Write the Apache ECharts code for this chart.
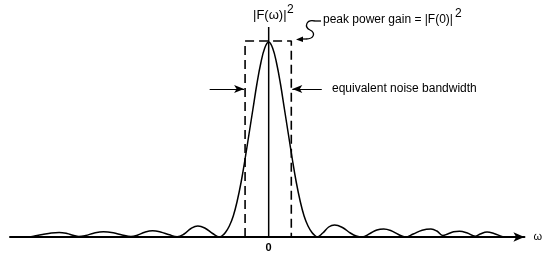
<!DOCTYPE html>
<html>
<head>
<meta charset="utf-8">
<script src="https://cdn.jsdelivr.net/npm/echarts@6/dist/echarts.min.js"></script>
<style>
  html, body { margin: 0; padding: 0; background: #fff; }
  #chart { width: 545px; height: 255px; }
</style>
</head>
<body>
<div id="chart"></div>
<script>
// |F(w)|^2 curve, [w, power] (w = 0 at the centre line)
const spectrum = [
  [-243, 0], [-237, 1.2], [-230, 2.5], [-221, 4], [-213, 4.5], [-205, 3.5], [-199, 1.8], [-193, 0.5],
  [-186, 1.5], [-178, 3.8], [-168, 5.2], [-158, 4.2], [-149, 2], [-140, 0.5],
  [-133, 2], [-126, 4.8], [-118, 6.2], [-110, 5], [-101, 2.2], [-93, 0.3],
  [-86, 3], [-79, 8.5], [-72, 11], [-65, 9], [-57, 3.5], [-50, 0],
  [-47, 1.5], [-44, 4.5], [-40, 11], [-36, 21], [-32, 36], [-28, 55], [-24, 78],
  [-20, 103], [-16, 128], [-12, 153], [-8, 174], [-4, 189], [0, 195],
  [4, 189], [8, 174], [12, 153], [16, 128], [20, 103], [24, 78],
  [28, 55], [32, 36], [36, 21], [40, 11], [44, 4.5], [47, 1.5], [49, 0],
  [55, 4], [61, 10], [67, 12], [75, 9.5], [83, 4], [89, 1], [95, 0],
  [103, 3.5], [110, 7], [117, 8], [124, 6.5], [132, 2.5], [139, 0],
  [147, 3], [156, 6.8], [165, 8], [171, 6], [177, 1.5],
  [182, 3], [188, 5.2], [194, 5.8], [202, 4], [210, 0.8],
  [215, 3], [222, 5], [229, 3.5], [237, 0.5], [239, 0]
];
// equivalent noise bandwidth box
const boxLeft = -24;
const boxRight = 23;
const peakGain = 196;
const axisTop = 210;
const arrowLevel = 148;

const chart = echarts.init(document.getElementById('chart'));
const font = 'Liberation Sans, Arial, sans-serif';
const txt = { fill: '#000', fontFamily: font, fontSize: 12 };

chart.setOption({
  animation: false,
  backgroundColor: '#fff',
  grid: { left: 10, right: 12, top: 5, bottom: 18 },
  xAxis: {
    type: 'value',
    min: -263,
    max: 260,
    splitLine: { show: false },
    axisTick: { show: false },
    axisLine: {
      show: true,
      symbol: ['none', 'arrow'],
      symbolSize: [7, 11],
      lineStyle: { color: '#000', width: 2 }
    },
    axisLabel: {
      customValues: [0],
      margin: 5,
      color: '#000',
      fontFamily: font,
      fontSize: 11,
      fontWeight: 'bold'
    },
    name: 'ω',
    nameLocation: 'end',
    nameGap: 9,
    nameTextStyle: { color: '#000', fontFamily: font, fontSize: 11 }
  },
  yAxis: {
    type: 'value',
    min: 0,
    max: 232,
    show: false
  },
  series: [
    {
      type: 'line',
      data: spectrum,
      smooth: 0.4,
      symbol: 'none',
      lineStyle: { color: '#000', width: 1.5 },
      z: 3
    },
    {
      // vertical axis through w = 0
      type: 'line',
      data: [[0, 0], [0, axisTop]],
      symbol: 'none',
      lineStyle: { color: '#000', width: 1.5 },
      z: 2
    },
    {
      type: 'line',
      data: [[boxLeft, 0], [boxLeft, peakGain], [boxRight, peakGain], [boxRight, 0]],
      symbol: 'none',
      lineStyle: { color: '#000', width: 1.6, type: [9, 5] },
      z: 2,
      markLine: {
        silent: true,
        symbol: ['none', 'arrow'],
        symbolSize: [6, 10],
        label: { show: false },
        lineStyle: { color: '#000', width: 1, type: 'solid' },
        data: [
          [{ coord: [-60, arrowLevel] }, { coord: [boxLeft - 1, arrowLevel] }],
          [{ coord: [54, arrowLevel] }, { coord: [boxRight + 1, arrowLevel] }]
        ]
      }
    }
  ],
  graphic: [
    { type: 'text', left: 253, top: 9, style: Object.assign({}, txt, { text: '|F(ω)|', fontSize: 13 }) },
    { type: 'text', left: 287, top: 4, style: Object.assign({ text: '2' }, txt) },
    { type: 'text', left: 323, top: 14, style: Object.assign({ text: 'peak power gain = |F(0)|' }, txt) },
    { type: 'text', left: 455, top: 8, style: Object.assign({ text: '2' }, txt) },
    { type: 'text', left: 332, top: 83, style: Object.assign({ text: 'equivalent noise bandwidth' }, txt) },
    // S-shaped pointer to the peak
    { type: 'line', shape: { x1: 321, y1: 21, x2: 315, y2: 21 }, style: { stroke: '#000', lineWidth: 1.3 } },
    {
      type: 'bezierCurve',
      shape: { x1: 315, y1: 21, cpx1: 306, cpy1: 19, cpx2: 304, cpy2: 27, x2: 310, y2: 30 },
      style: { stroke: '#000', lineWidth: 1.3, fill: null }
    },
    {
      type: 'bezierCurve',
      shape: { x1: 310, y1: 30, cpx1: 316, cpy1: 33, cpx2: 314, cpy2: 39, x2: 306, y2: 39 },
      style: { stroke: '#000', lineWidth: 1.3, fill: null }
    },
    { type: 'line', shape: { x1: 306, y1: 39, x2: 302, y2: 39 }, style: { stroke: '#000', lineWidth: 1.3 } },
    {
      type: 'polygon',
      shape: { points: [[296, 39.5], [303, 36.5], [303, 42]] },
      style: { fill: '#000' }
    }
  ]
});
</script>
</body>
</html>
